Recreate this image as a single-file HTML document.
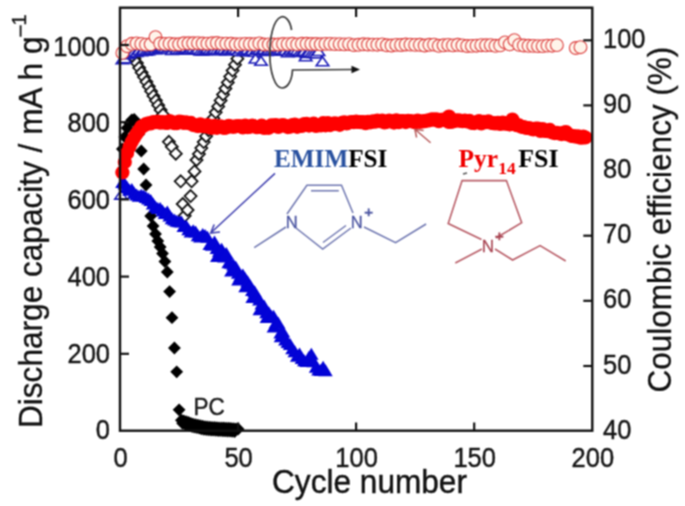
<!DOCTYPE html>
<html><head><meta charset="utf-8"><style>
html,body{margin:0;padding:0;background:#fff;}
svg{display:block;}
</style></head><body>
<svg width="685" height="506" viewBox="0 0 685 506">
<defs><filter id="soft" x="0" y="0" width="685" height="506" filterUnits="userSpaceOnUse" color-interpolation-filters="sRGB"><feConvolveMatrix order="3" kernelMatrix="1 2 1 2 4 2 1 2 1" divisor="16" edgeMode="duplicate"/></filter></defs>
<g filter="url(#soft)">
<rect width="685" height="506" fill="#fff"/>
<path d="M134.5 52.4L140.5 58.4L134.5 64.4L128.5 58.4Z" fill="#fff" stroke="#111" stroke-width="1.8"/>
<path d="M136.9 57.1L142.9 63.1L136.9 69.1L130.9 63.1Z" fill="#fff" stroke="#111" stroke-width="1.8"/>
<path d="M139.2 61.8L145.2 67.8L139.2 73.8L133.2 67.8Z" fill="#fff" stroke="#111" stroke-width="1.8"/>
<path d="M141.6 66.5L147.6 72.5L141.6 78.5L135.6 72.5Z" fill="#fff" stroke="#111" stroke-width="1.8"/>
<path d="M144.0 71.1L150.0 77.1L144.0 83.1L138.0 77.1Z" fill="#fff" stroke="#111" stroke-width="1.8"/>
<path d="M146.4 75.8L152.4 81.8L146.4 87.8L140.4 81.8Z" fill="#fff" stroke="#111" stroke-width="1.8"/>
<path d="M148.8 80.5L154.8 86.5L148.8 92.5L142.8 86.5Z" fill="#fff" stroke="#111" stroke-width="1.8"/>
<path d="M151.1 85.2L157.1 91.2L151.1 97.2L145.1 91.2Z" fill="#fff" stroke="#111" stroke-width="1.8"/>
<path d="M153.5 89.9L159.5 95.9L153.5 101.9L147.5 95.9Z" fill="#fff" stroke="#111" stroke-width="1.8"/>
<path d="M155.9 94.5L161.9 100.5L155.9 106.5L149.9 100.5Z" fill="#fff" stroke="#111" stroke-width="1.8"/>
<path d="M158.2 99.2L164.2 105.2L158.2 111.2L152.2 105.2Z" fill="#fff" stroke="#111" stroke-width="1.8"/>
<path d="M160.6 103.9L166.6 109.9L160.6 115.9L154.6 109.9Z" fill="#fff" stroke="#111" stroke-width="1.8"/>
<path d="M163.0 108.6L169.0 114.6L163.0 120.6L157.0 114.6Z" fill="#fff" stroke="#111" stroke-width="1.8"/>
<path d="M168.9 135.8L174.9 141.8L168.9 147.8L162.9 141.8Z" fill="#fff" stroke="#111" stroke-width="1.8"/>
<path d="M171.8 140.8L177.8 146.8L171.8 152.8L165.8 146.8Z" fill="#fff" stroke="#111" stroke-width="1.8"/>
<path d="M175.8 147.7L181.8 153.7L175.8 159.7L169.8 153.7Z" fill="#fff" stroke="#111" stroke-width="1.8"/>
<path d="M180.7 175.3L186.7 181.3L180.7 187.3L174.7 181.3Z" fill="#fff" stroke="#111" stroke-width="1.8"/>
<path d="M182.7 198.0L188.7 204.0L182.7 210.0L176.7 204.0Z" fill="#fff" stroke="#111" stroke-width="1.8"/>
<path d="M184.7 209.8L190.7 215.8L184.7 221.8L178.7 215.8Z" fill="#fff" stroke="#111" stroke-width="1.8"/>
<path d="M187.6 204.0L193.6 210.0L187.6 216.0L181.6 210.0Z" fill="#fff" stroke="#111" stroke-width="1.8"/>
<path d="M190.6 190.1L196.6 196.1L190.6 202.1L184.6 196.1Z" fill="#fff" stroke="#111" stroke-width="1.8"/>
<path d="M191.6 175.3L197.6 181.3L191.6 187.3L185.6 181.3Z" fill="#fff" stroke="#111" stroke-width="1.8"/>
<path d="M194.5 165.4L200.5 171.4L194.5 177.4L188.5 171.4Z" fill="#fff" stroke="#111" stroke-width="1.8"/>
<path d="M196.5 154.0L202.5 160.0L196.5 166.0L190.5 160.0Z" fill="#fff" stroke="#111" stroke-width="1.8"/>
<path d="M198.9 148.0L204.9 154.0L198.9 160.0L192.9 154.0Z" fill="#fff" stroke="#111" stroke-width="1.8"/>
<path d="M201.3 142.1L207.3 148.1L201.3 154.1L195.3 148.1Z" fill="#fff" stroke="#111" stroke-width="1.8"/>
<path d="M203.7 136.1L209.7 142.1L203.7 148.1L197.7 142.1Z" fill="#fff" stroke="#111" stroke-width="1.8"/>
<path d="M206.1 130.2L212.1 136.2L206.1 142.2L200.1 136.2Z" fill="#fff" stroke="#111" stroke-width="1.8"/>
<path d="M208.5 124.2L214.5 130.2L208.5 136.2L202.5 130.2Z" fill="#fff" stroke="#111" stroke-width="1.8"/>
<path d="M210.9 118.2L216.9 124.2L210.9 130.2L204.9 124.2Z" fill="#fff" stroke="#111" stroke-width="1.8"/>
<path d="M213.3 112.3L219.3 118.3L213.3 124.3L207.3 118.3Z" fill="#fff" stroke="#111" stroke-width="1.8"/>
<path d="M215.7 106.3L221.7 112.3L215.7 118.3L209.7 112.3Z" fill="#fff" stroke="#111" stroke-width="1.8"/>
<path d="M218.2 100.4L224.2 106.4L218.2 112.4L212.2 106.4Z" fill="#fff" stroke="#111" stroke-width="1.8"/>
<path d="M220.6 94.4L226.6 100.4L220.6 106.4L214.6 100.4Z" fill="#fff" stroke="#111" stroke-width="1.8"/>
<path d="M223.0 88.5L229.0 94.5L223.0 100.5L217.0 94.5Z" fill="#fff" stroke="#111" stroke-width="1.8"/>
<path d="M225.4 82.5L231.4 88.5L225.4 94.5L219.4 88.5Z" fill="#fff" stroke="#111" stroke-width="1.8"/>
<path d="M227.8 76.5L233.8 82.5L227.8 88.5L221.8 82.5Z" fill="#fff" stroke="#111" stroke-width="1.8"/>
<path d="M230.2 70.6L236.2 76.6L230.2 82.6L224.2 76.6Z" fill="#fff" stroke="#111" stroke-width="1.8"/>
<path d="M232.6 64.6L238.6 70.6L232.6 76.6L226.6 70.6Z" fill="#fff" stroke="#111" stroke-width="1.8"/>
<path d="M235.0 58.7L241.0 64.7L235.0 70.7L229.0 64.7Z" fill="#fff" stroke="#111" stroke-width="1.8"/>
<path d="M237.4 52.7L243.4 58.7L237.4 64.7L231.4 58.7Z" fill="#fff" stroke="#111" stroke-width="1.8"/>
<path d="M121.0 190.1L127.2 199.1L114.8 199.1Z" fill="#fff" stroke="#1c1cb8" stroke-width="1.6" stroke-linejoin="miter"/>
<path d="M122.4 54.6L128.7 63.6L116.2 63.6Z" fill="#fff" stroke="#1c1cb8" stroke-width="1.6" stroke-linejoin="miter"/>
<path d="M124.8 53.8L131.0 62.8L118.5 62.8Z" fill="#fff" stroke="#1c1cb8" stroke-width="1.6" stroke-linejoin="miter"/>
<path d="M127.1 49.6L133.4 58.6L120.9 58.6Z" fill="#fff" stroke="#1c1cb8" stroke-width="1.6" stroke-linejoin="miter"/>
<path d="M129.5 48.9L135.7 57.9L123.2 57.9Z" fill="#fff" stroke="#1c1cb8" stroke-width="1.6" stroke-linejoin="miter"/>
<path d="M131.8 46.9L138.1 55.9L125.6 55.9Z" fill="#fff" stroke="#1c1cb8" stroke-width="1.6" stroke-linejoin="miter"/>
<path d="M134.2 46.9L140.5 55.9L128.0 55.9Z" fill="#fff" stroke="#1c1cb8" stroke-width="1.6" stroke-linejoin="miter"/>
<path d="M136.6 47.5L142.8 56.5L130.3 56.5Z" fill="#fff" stroke="#1c1cb8" stroke-width="1.6" stroke-linejoin="miter"/>
<path d="M138.9 45.5L145.2 54.5L132.7 54.5Z" fill="#fff" stroke="#1c1cb8" stroke-width="1.6" stroke-linejoin="miter"/>
<path d="M141.3 46.8L147.5 55.8L135.0 55.8Z" fill="#fff" stroke="#1c1cb8" stroke-width="1.6" stroke-linejoin="miter"/>
<path d="M143.7 45.2L149.9 54.2L137.4 54.2Z" fill="#fff" stroke="#1c1cb8" stroke-width="1.6" stroke-linejoin="miter"/>
<path d="M146.0 46.1L152.3 55.1L139.8 55.1Z" fill="#fff" stroke="#1c1cb8" stroke-width="1.6" stroke-linejoin="miter"/>
<path d="M148.4 45.7L154.6 54.7L142.1 54.7Z" fill="#fff" stroke="#1c1cb8" stroke-width="1.6" stroke-linejoin="miter"/>
<path d="M150.7 44.4L157.0 53.4L144.5 53.4Z" fill="#fff" stroke="#1c1cb8" stroke-width="1.6" stroke-linejoin="miter"/>
<path d="M153.1 42.8L159.3 51.8L146.8 51.8Z" fill="#fff" stroke="#1c1cb8" stroke-width="1.6" stroke-linejoin="miter"/>
<path d="M155.5 44.8L161.7 53.8L149.2 53.8Z" fill="#fff" stroke="#1c1cb8" stroke-width="1.6" stroke-linejoin="miter"/>
<path d="M157.8 44.5L164.1 53.5L151.6 53.5Z" fill="#fff" stroke="#1c1cb8" stroke-width="1.6" stroke-linejoin="miter"/>
<path d="M160.2 43.2L166.4 52.2L153.9 52.2Z" fill="#fff" stroke="#1c1cb8" stroke-width="1.6" stroke-linejoin="miter"/>
<path d="M162.5 42.2L168.8 51.2L156.3 51.2Z" fill="#fff" stroke="#1c1cb8" stroke-width="1.6" stroke-linejoin="miter"/>
<path d="M164.9 43.5L171.2 52.5L158.7 52.5Z" fill="#fff" stroke="#1c1cb8" stroke-width="1.6" stroke-linejoin="miter"/>
<path d="M167.3 44.1L173.5 53.1L161.0 53.1Z" fill="#fff" stroke="#1c1cb8" stroke-width="1.6" stroke-linejoin="miter"/>
<path d="M169.6 42.3L175.9 51.3L163.4 51.3Z" fill="#fff" stroke="#1c1cb8" stroke-width="1.6" stroke-linejoin="miter"/>
<path d="M172.0 45.4L178.2 54.4L165.7 54.4Z" fill="#fff" stroke="#1c1cb8" stroke-width="1.6" stroke-linejoin="miter"/>
<path d="M174.4 42.8L180.6 51.8L168.1 51.8Z" fill="#fff" stroke="#1c1cb8" stroke-width="1.6" stroke-linejoin="miter"/>
<path d="M176.7 44.7L183.0 53.7L170.5 53.7Z" fill="#fff" stroke="#1c1cb8" stroke-width="1.6" stroke-linejoin="miter"/>
<path d="M179.1 45.2L185.3 54.2L172.8 54.2Z" fill="#fff" stroke="#1c1cb8" stroke-width="1.6" stroke-linejoin="miter"/>
<path d="M181.4 45.3L187.7 54.3L175.2 54.3Z" fill="#fff" stroke="#1c1cb8" stroke-width="1.6" stroke-linejoin="miter"/>
<path d="M183.8 44.7L190.0 53.7L177.5 53.7Z" fill="#fff" stroke="#1c1cb8" stroke-width="1.6" stroke-linejoin="miter"/>
<path d="M186.2 43.1L192.4 52.1L179.9 52.1Z" fill="#fff" stroke="#1c1cb8" stroke-width="1.6" stroke-linejoin="miter"/>
<path d="M188.5 45.2L194.8 54.2L182.3 54.2Z" fill="#fff" stroke="#1c1cb8" stroke-width="1.6" stroke-linejoin="miter"/>
<path d="M190.9 44.0L197.1 53.0L184.6 53.0Z" fill="#fff" stroke="#1c1cb8" stroke-width="1.6" stroke-linejoin="miter"/>
<path d="M193.2 43.8L199.5 52.8L187.0 52.8Z" fill="#fff" stroke="#1c1cb8" stroke-width="1.6" stroke-linejoin="miter"/>
<path d="M195.6 44.8L201.9 53.8L189.4 53.8Z" fill="#fff" stroke="#1c1cb8" stroke-width="1.6" stroke-linejoin="miter"/>
<path d="M198.0 44.3L204.2 53.3L191.7 53.3Z" fill="#fff" stroke="#1c1cb8" stroke-width="1.6" stroke-linejoin="miter"/>
<path d="M200.3 45.9L206.6 54.9L194.1 54.9Z" fill="#fff" stroke="#1c1cb8" stroke-width="1.6" stroke-linejoin="miter"/>
<path d="M202.7 46.0L208.9 55.0L196.4 55.0Z" fill="#fff" stroke="#1c1cb8" stroke-width="1.6" stroke-linejoin="miter"/>
<path d="M205.1 45.6L211.3 54.6L198.8 54.6Z" fill="#fff" stroke="#1c1cb8" stroke-width="1.6" stroke-linejoin="miter"/>
<path d="M207.4 44.1L213.7 53.1L201.2 53.1Z" fill="#fff" stroke="#1c1cb8" stroke-width="1.6" stroke-linejoin="miter"/>
<path d="M209.8 45.0L216.0 54.0L203.5 54.0Z" fill="#fff" stroke="#1c1cb8" stroke-width="1.6" stroke-linejoin="miter"/>
<path d="M212.1 45.4L218.4 54.4L205.9 54.4Z" fill="#fff" stroke="#1c1cb8" stroke-width="1.6" stroke-linejoin="miter"/>
<path d="M214.5 44.6L220.7 53.6L208.2 53.6Z" fill="#fff" stroke="#1c1cb8" stroke-width="1.6" stroke-linejoin="miter"/>
<path d="M216.9 45.1L223.1 54.1L210.6 54.1Z" fill="#fff" stroke="#1c1cb8" stroke-width="1.6" stroke-linejoin="miter"/>
<path d="M219.2 45.7L225.5 54.7L213.0 54.7Z" fill="#fff" stroke="#1c1cb8" stroke-width="1.6" stroke-linejoin="miter"/>
<path d="M221.6 44.1L227.8 53.1L215.3 53.1Z" fill="#fff" stroke="#1c1cb8" stroke-width="1.6" stroke-linejoin="miter"/>
<path d="M223.9 44.5L230.2 53.5L217.7 53.5Z" fill="#fff" stroke="#1c1cb8" stroke-width="1.6" stroke-linejoin="miter"/>
<path d="M226.3 46.0L232.6 55.0L220.1 55.0Z" fill="#fff" stroke="#1c1cb8" stroke-width="1.6" stroke-linejoin="miter"/>
<path d="M228.7 45.0L234.9 54.0L222.4 54.0Z" fill="#fff" stroke="#1c1cb8" stroke-width="1.6" stroke-linejoin="miter"/>
<path d="M231.0 45.3L237.3 54.3L224.8 54.3Z" fill="#fff" stroke="#1c1cb8" stroke-width="1.6" stroke-linejoin="miter"/>
<path d="M233.4 44.2L239.6 53.2L227.1 53.2Z" fill="#fff" stroke="#1c1cb8" stroke-width="1.6" stroke-linejoin="miter"/>
<path d="M235.8 44.7L242.0 53.7L229.5 53.7Z" fill="#fff" stroke="#1c1cb8" stroke-width="1.6" stroke-linejoin="miter"/>
<path d="M238.1 46.2L244.4 55.2L231.9 55.2Z" fill="#fff" stroke="#1c1cb8" stroke-width="1.6" stroke-linejoin="miter"/>
<path d="M240.5 44.0L246.7 53.0L234.2 53.0Z" fill="#fff" stroke="#1c1cb8" stroke-width="1.6" stroke-linejoin="miter"/>
<path d="M242.8 46.8L249.1 55.8L236.6 55.8Z" fill="#fff" stroke="#1c1cb8" stroke-width="1.6" stroke-linejoin="miter"/>
<path d="M245.2 45.9L251.4 54.9L238.9 54.9Z" fill="#fff" stroke="#1c1cb8" stroke-width="1.6" stroke-linejoin="miter"/>
<path d="M247.6 44.8L253.8 53.8L241.3 53.8Z" fill="#fff" stroke="#1c1cb8" stroke-width="1.6" stroke-linejoin="miter"/>
<path d="M249.9 46.8L256.2 55.8L243.7 55.8Z" fill="#fff" stroke="#1c1cb8" stroke-width="1.6" stroke-linejoin="miter"/>
<path d="M252.3 45.8L258.5 54.8L246.0 54.8Z" fill="#fff" stroke="#1c1cb8" stroke-width="1.6" stroke-linejoin="miter"/>
<path d="M254.6 47.3L260.9 56.3L248.4 56.3Z" fill="#fff" stroke="#1c1cb8" stroke-width="1.6" stroke-linejoin="miter"/>
<path d="M255.5 54.0L261.8 63.0L249.2 63.0Z" fill="#fff" stroke="#1c1cb8" stroke-width="1.6" stroke-linejoin="miter"/>
<path d="M257.0 45.2L263.3 54.2L250.8 54.2Z" fill="#fff" stroke="#1c1cb8" stroke-width="1.6" stroke-linejoin="miter"/>
<path d="M259.4 45.0L265.6 54.0L253.1 54.0Z" fill="#fff" stroke="#1c1cb8" stroke-width="1.6" stroke-linejoin="miter"/>
<path d="M261.0 56.2L267.2 65.2L254.8 65.2Z" fill="#fff" stroke="#1c1cb8" stroke-width="1.6" stroke-linejoin="miter"/>
<path d="M261.7 45.6L268.0 54.6L255.5 54.6Z" fill="#fff" stroke="#1c1cb8" stroke-width="1.6" stroke-linejoin="miter"/>
<path d="M264.1 44.7L270.3 53.7L257.8 53.7Z" fill="#fff" stroke="#1c1cb8" stroke-width="1.6" stroke-linejoin="miter"/>
<path d="M266.5 46.5L272.7 55.5L260.2 55.5Z" fill="#fff" stroke="#1c1cb8" stroke-width="1.6" stroke-linejoin="miter"/>
<path d="M268.8 45.3L275.1 54.3L262.6 54.3Z" fill="#fff" stroke="#1c1cb8" stroke-width="1.6" stroke-linejoin="miter"/>
<path d="M271.2 45.7L277.4 54.7L264.9 54.7Z" fill="#fff" stroke="#1c1cb8" stroke-width="1.6" stroke-linejoin="miter"/>
<path d="M273.5 45.8L279.8 54.8L267.3 54.8Z" fill="#fff" stroke="#1c1cb8" stroke-width="1.6" stroke-linejoin="miter"/>
<path d="M275.9 46.2L282.1 55.2L269.6 55.2Z" fill="#fff" stroke="#1c1cb8" stroke-width="1.6" stroke-linejoin="miter"/>
<path d="M278.3 45.0L284.5 54.0L272.0 54.0Z" fill="#fff" stroke="#1c1cb8" stroke-width="1.6" stroke-linejoin="miter"/>
<path d="M280.6 44.7L286.9 53.7L274.4 53.7Z" fill="#fff" stroke="#1c1cb8" stroke-width="1.6" stroke-linejoin="miter"/>
<path d="M283.0 46.2L289.2 55.2L276.7 55.2Z" fill="#fff" stroke="#1c1cb8" stroke-width="1.6" stroke-linejoin="miter"/>
<path d="M285.3 45.6L291.6 54.6L279.1 54.6Z" fill="#fff" stroke="#1c1cb8" stroke-width="1.6" stroke-linejoin="miter"/>
<path d="M287.7 47.7L294.0 56.7L281.5 56.7Z" fill="#fff" stroke="#1c1cb8" stroke-width="1.6" stroke-linejoin="miter"/>
<path d="M290.1 45.7L296.3 54.7L283.8 54.7Z" fill="#fff" stroke="#1c1cb8" stroke-width="1.6" stroke-linejoin="miter"/>
<path d="M292.4 46.0L298.7 55.0L286.2 55.0Z" fill="#fff" stroke="#1c1cb8" stroke-width="1.6" stroke-linejoin="miter"/>
<path d="M294.8 44.9L301.0 53.9L288.5 53.9Z" fill="#fff" stroke="#1c1cb8" stroke-width="1.6" stroke-linejoin="miter"/>
<path d="M297.2 45.6L303.4 54.6L290.9 54.6Z" fill="#fff" stroke="#1c1cb8" stroke-width="1.6" stroke-linejoin="miter"/>
<path d="M299.5 47.4L305.8 56.4L293.3 56.4Z" fill="#fff" stroke="#1c1cb8" stroke-width="1.6" stroke-linejoin="miter"/>
<path d="M301.9 47.2L308.1 56.2L295.6 56.2Z" fill="#fff" stroke="#1c1cb8" stroke-width="1.6" stroke-linejoin="miter"/>
<path d="M304.2 46.3L310.5 55.3L298.0 55.3Z" fill="#fff" stroke="#1c1cb8" stroke-width="1.6" stroke-linejoin="miter"/>
<path d="M305.7 51.8L311.9 60.8L299.4 60.8Z" fill="#fff" stroke="#1c1cb8" stroke-width="1.6" stroke-linejoin="miter"/>
<path d="M306.6 48.5L312.8 57.5L300.3 57.5Z" fill="#fff" stroke="#1c1cb8" stroke-width="1.6" stroke-linejoin="miter"/>
<path d="M309.0 47.2L315.2 56.2L302.7 56.2Z" fill="#fff" stroke="#1c1cb8" stroke-width="1.6" stroke-linejoin="miter"/>
<path d="M311.3 48.2L317.6 57.2L305.1 57.2Z" fill="#fff" stroke="#1c1cb8" stroke-width="1.6" stroke-linejoin="miter"/>
<path d="M313.7 48.5L319.9 57.5L307.4 57.5Z" fill="#fff" stroke="#1c1cb8" stroke-width="1.6" stroke-linejoin="miter"/>
<path d="M316.0 48.7L322.3 57.7L309.8 57.7Z" fill="#fff" stroke="#1c1cb8" stroke-width="1.6" stroke-linejoin="miter"/>
<path d="M318.4 46.5L324.7 55.5L312.2 55.5Z" fill="#fff" stroke="#1c1cb8" stroke-width="1.6" stroke-linejoin="miter"/>
<path d="M322.5 56.7L328.8 65.7L316.2 65.7Z" fill="#fff" stroke="#1c1cb8" stroke-width="1.6" stroke-linejoin="miter"/>
<circle cx="122.4" cy="52.9" r="6.4" fill="#fff4ea" stroke="#dc4040" stroke-width="1.1"/>
<circle cx="127.1" cy="46.2" r="6.4" fill="#fff4ea" stroke="#dc4040" stroke-width="1.1"/>
<circle cx="131.8" cy="43.8" r="6.4" fill="#fff4ea" stroke="#dc4040" stroke-width="1.1"/>
<circle cx="136.6" cy="43.4" r="6.4" fill="#fff4ea" stroke="#dc4040" stroke-width="1.1"/>
<circle cx="141.3" cy="43.9" r="6.4" fill="#fff4ea" stroke="#dc4040" stroke-width="1.1"/>
<circle cx="146.0" cy="44.6" r="6.4" fill="#fff4ea" stroke="#dc4040" stroke-width="1.1"/>
<circle cx="150.7" cy="44.3" r="6.4" fill="#fff4ea" stroke="#dc4040" stroke-width="1.1"/>
<circle cx="155.5" cy="37.1" r="6.4" fill="#fff4ea" stroke="#dc4040" stroke-width="1.1"/>
<circle cx="160.2" cy="43.5" r="6.4" fill="#fff4ea" stroke="#dc4040" stroke-width="1.1"/>
<circle cx="164.9" cy="43.9" r="6.4" fill="#fff4ea" stroke="#dc4040" stroke-width="1.1"/>
<circle cx="169.6" cy="43.7" r="6.4" fill="#fff4ea" stroke="#dc4040" stroke-width="1.1"/>
<circle cx="174.4" cy="44.3" r="6.4" fill="#fff4ea" stroke="#dc4040" stroke-width="1.1"/>
<circle cx="179.1" cy="44.3" r="6.4" fill="#fff4ea" stroke="#dc4040" stroke-width="1.1"/>
<circle cx="183.8" cy="43.3" r="6.4" fill="#fff4ea" stroke="#dc4040" stroke-width="1.1"/>
<circle cx="188.5" cy="43.3" r="6.4" fill="#fff4ea" stroke="#dc4040" stroke-width="1.1"/>
<circle cx="193.2" cy="43.3" r="6.4" fill="#fff4ea" stroke="#dc4040" stroke-width="1.1"/>
<circle cx="198.0" cy="43.2" r="6.4" fill="#fff4ea" stroke="#dc4040" stroke-width="1.1"/>
<circle cx="202.7" cy="43.5" r="6.4" fill="#fff4ea" stroke="#dc4040" stroke-width="1.1"/>
<circle cx="207.4" cy="43.7" r="6.4" fill="#fff4ea" stroke="#dc4040" stroke-width="1.1"/>
<circle cx="212.1" cy="43.3" r="6.4" fill="#fff4ea" stroke="#dc4040" stroke-width="1.1"/>
<circle cx="216.9" cy="43.0" r="6.4" fill="#fff4ea" stroke="#dc4040" stroke-width="1.1"/>
<circle cx="221.6" cy="43.6" r="6.4" fill="#fff4ea" stroke="#dc4040" stroke-width="1.1"/>
<circle cx="226.3" cy="43.6" r="6.4" fill="#fff4ea" stroke="#dc4040" stroke-width="1.1"/>
<circle cx="231.0" cy="43.8" r="6.4" fill="#fff4ea" stroke="#dc4040" stroke-width="1.1"/>
<circle cx="235.8" cy="44.3" r="6.4" fill="#fff4ea" stroke="#dc4040" stroke-width="1.1"/>
<circle cx="240.5" cy="44.1" r="6.4" fill="#fff4ea" stroke="#dc4040" stroke-width="1.1"/>
<circle cx="245.2" cy="43.9" r="6.4" fill="#fff4ea" stroke="#dc4040" stroke-width="1.1"/>
<circle cx="249.9" cy="44.0" r="6.4" fill="#fff4ea" stroke="#dc4040" stroke-width="1.1"/>
<circle cx="254.6" cy="44.1" r="6.4" fill="#fff4ea" stroke="#dc4040" stroke-width="1.1"/>
<circle cx="259.4" cy="43.4" r="6.4" fill="#fff4ea" stroke="#dc4040" stroke-width="1.1"/>
<circle cx="264.1" cy="44.5" r="6.4" fill="#fff4ea" stroke="#dc4040" stroke-width="1.1"/>
<circle cx="268.8" cy="44.4" r="6.4" fill="#fff4ea" stroke="#dc4040" stroke-width="1.1"/>
<circle cx="273.5" cy="44.5" r="6.4" fill="#fff4ea" stroke="#dc4040" stroke-width="1.1"/>
<circle cx="278.3" cy="44.5" r="6.4" fill="#fff4ea" stroke="#dc4040" stroke-width="1.1"/>
<circle cx="283.0" cy="44.0" r="6.4" fill="#fff4ea" stroke="#dc4040" stroke-width="1.1"/>
<circle cx="287.7" cy="44.1" r="6.4" fill="#fff4ea" stroke="#dc4040" stroke-width="1.1"/>
<circle cx="292.4" cy="43.8" r="6.4" fill="#fff4ea" stroke="#dc4040" stroke-width="1.1"/>
<circle cx="297.2" cy="44.4" r="6.4" fill="#fff4ea" stroke="#dc4040" stroke-width="1.1"/>
<circle cx="301.9" cy="43.8" r="6.4" fill="#fff4ea" stroke="#dc4040" stroke-width="1.1"/>
<circle cx="306.6" cy="43.8" r="6.4" fill="#fff4ea" stroke="#dc4040" stroke-width="1.1"/>
<circle cx="311.3" cy="44.0" r="6.4" fill="#fff4ea" stroke="#dc4040" stroke-width="1.1"/>
<circle cx="316.0" cy="44.0" r="6.4" fill="#fff4ea" stroke="#dc4040" stroke-width="1.1"/>
<circle cx="320.8" cy="44.3" r="6.4" fill="#fff4ea" stroke="#dc4040" stroke-width="1.1"/>
<circle cx="325.5" cy="43.9" r="6.4" fill="#fff4ea" stroke="#dc4040" stroke-width="1.1"/>
<circle cx="330.2" cy="43.9" r="6.4" fill="#fff4ea" stroke="#dc4040" stroke-width="1.1"/>
<circle cx="334.9" cy="44.1" r="6.4" fill="#fff4ea" stroke="#dc4040" stroke-width="1.1"/>
<circle cx="339.7" cy="44.1" r="6.4" fill="#fff4ea" stroke="#dc4040" stroke-width="1.1"/>
<circle cx="344.4" cy="44.4" r="6.4" fill="#fff4ea" stroke="#dc4040" stroke-width="1.1"/>
<circle cx="349.1" cy="44.1" r="6.4" fill="#fff4ea" stroke="#dc4040" stroke-width="1.1"/>
<circle cx="353.8" cy="45.1" r="6.4" fill="#fff4ea" stroke="#dc4040" stroke-width="1.1"/>
<circle cx="358.5" cy="44.8" r="6.4" fill="#fff4ea" stroke="#dc4040" stroke-width="1.1"/>
<circle cx="363.3" cy="44.3" r="6.4" fill="#fff4ea" stroke="#dc4040" stroke-width="1.1"/>
<circle cx="368.0" cy="44.5" r="6.4" fill="#fff4ea" stroke="#dc4040" stroke-width="1.1"/>
<circle cx="372.7" cy="44.6" r="6.4" fill="#fff4ea" stroke="#dc4040" stroke-width="1.1"/>
<circle cx="377.4" cy="44.7" r="6.4" fill="#fff4ea" stroke="#dc4040" stroke-width="1.1"/>
<circle cx="382.2" cy="44.4" r="6.4" fill="#fff4ea" stroke="#dc4040" stroke-width="1.1"/>
<circle cx="386.9" cy="45.3" r="6.4" fill="#fff4ea" stroke="#dc4040" stroke-width="1.1"/>
<circle cx="391.6" cy="45.5" r="6.4" fill="#fff4ea" stroke="#dc4040" stroke-width="1.1"/>
<circle cx="396.3" cy="44.9" r="6.4" fill="#fff4ea" stroke="#dc4040" stroke-width="1.1"/>
<circle cx="401.1" cy="45.0" r="6.4" fill="#fff4ea" stroke="#dc4040" stroke-width="1.1"/>
<circle cx="405.8" cy="44.5" r="6.4" fill="#fff4ea" stroke="#dc4040" stroke-width="1.1"/>
<circle cx="410.5" cy="44.6" r="6.4" fill="#fff4ea" stroke="#dc4040" stroke-width="1.1"/>
<circle cx="415.2" cy="44.9" r="6.4" fill="#fff4ea" stroke="#dc4040" stroke-width="1.1"/>
<circle cx="419.9" cy="44.8" r="6.4" fill="#fff4ea" stroke="#dc4040" stroke-width="1.1"/>
<circle cx="424.7" cy="45.5" r="6.4" fill="#fff4ea" stroke="#dc4040" stroke-width="1.1"/>
<circle cx="429.4" cy="44.8" r="6.4" fill="#fff4ea" stroke="#dc4040" stroke-width="1.1"/>
<circle cx="434.1" cy="44.6" r="6.4" fill="#fff4ea" stroke="#dc4040" stroke-width="1.1"/>
<circle cx="438.8" cy="45.8" r="6.4" fill="#fff4ea" stroke="#dc4040" stroke-width="1.1"/>
<circle cx="443.6" cy="45.3" r="6.4" fill="#fff4ea" stroke="#dc4040" stroke-width="1.1"/>
<circle cx="448.3" cy="44.9" r="6.4" fill="#fff4ea" stroke="#dc4040" stroke-width="1.1"/>
<circle cx="453.0" cy="45.4" r="6.4" fill="#fff4ea" stroke="#dc4040" stroke-width="1.1"/>
<circle cx="457.7" cy="44.8" r="6.4" fill="#fff4ea" stroke="#dc4040" stroke-width="1.1"/>
<circle cx="462.5" cy="45.4" r="6.4" fill="#fff4ea" stroke="#dc4040" stroke-width="1.1"/>
<circle cx="467.2" cy="46.0" r="6.4" fill="#fff4ea" stroke="#dc4040" stroke-width="1.1"/>
<circle cx="471.9" cy="45.9" r="6.4" fill="#fff4ea" stroke="#dc4040" stroke-width="1.1"/>
<circle cx="476.6" cy="45.7" r="6.4" fill="#fff4ea" stroke="#dc4040" stroke-width="1.1"/>
<circle cx="481.3" cy="45.2" r="6.4" fill="#fff4ea" stroke="#dc4040" stroke-width="1.1"/>
<circle cx="486.1" cy="45.3" r="6.4" fill="#fff4ea" stroke="#dc4040" stroke-width="1.1"/>
<circle cx="490.8" cy="45.1" r="6.4" fill="#fff4ea" stroke="#dc4040" stroke-width="1.1"/>
<circle cx="495.5" cy="45.8" r="6.4" fill="#fff4ea" stroke="#dc4040" stroke-width="1.1"/>
<circle cx="500.2" cy="45.4" r="6.4" fill="#fff4ea" stroke="#dc4040" stroke-width="1.1"/>
<circle cx="505.0" cy="42.4" r="6.4" fill="#fff4ea" stroke="#dc4040" stroke-width="1.1"/>
<circle cx="509.7" cy="44.3" r="6.4" fill="#fff4ea" stroke="#dc4040" stroke-width="1.1"/>
<circle cx="514.4" cy="40.2" r="6.4" fill="#fff4ea" stroke="#dc4040" stroke-width="1.1"/>
<circle cx="519.1" cy="44.9" r="6.4" fill="#fff4ea" stroke="#dc4040" stroke-width="1.1"/>
<circle cx="523.9" cy="45.5" r="6.4" fill="#fff4ea" stroke="#dc4040" stroke-width="1.1"/>
<circle cx="528.6" cy="45.8" r="6.4" fill="#fff4ea" stroke="#dc4040" stroke-width="1.1"/>
<circle cx="533.3" cy="45.9" r="6.4" fill="#fff4ea" stroke="#dc4040" stroke-width="1.1"/>
<circle cx="538.0" cy="46.1" r="6.4" fill="#fff4ea" stroke="#dc4040" stroke-width="1.1"/>
<circle cx="542.7" cy="46.1" r="6.4" fill="#fff4ea" stroke="#dc4040" stroke-width="1.1"/>
<circle cx="547.5" cy="45.6" r="6.4" fill="#fff4ea" stroke="#dc4040" stroke-width="1.1"/>
<circle cx="552.2" cy="45.7" r="6.4" fill="#fff4ea" stroke="#dc4040" stroke-width="1.1"/>
<circle cx="556.9" cy="45.1" r="6.4" fill="#fff4ea" stroke="#dc4040" stroke-width="1.1"/>
<circle cx="575.8" cy="48.0" r="6.4" fill="#fff4ea" stroke="#dc4040" stroke-width="1.1"/>
<circle cx="580.5" cy="47.2" r="6.4" fill="#fff4ea" stroke="#dc4040" stroke-width="1.1"/>
<path d="M122.4 142.6L128.8 149.0L122.4 155.4L116.0 149.0Z" fill="#000" stroke="none" stroke-width="0"/>
<path d="M124.8 130.6L131.2 137.0L124.8 143.4L118.4 137.0Z" fill="#000" stroke="none" stroke-width="0"/>
<path d="M127.1 121.6L133.5 128.0L127.1 134.4L120.7 128.0Z" fill="#000" stroke="none" stroke-width="0"/>
<path d="M129.5 116.6L135.9 123.0L129.5 129.4L123.1 123.0Z" fill="#000" stroke="none" stroke-width="0"/>
<path d="M131.8 113.6L138.2 120.0L131.8 126.4L125.4 120.0Z" fill="#000" stroke="none" stroke-width="0"/>
<path d="M134.2 113.1L140.6 119.5L134.2 125.9L127.8 119.5Z" fill="#000" stroke="none" stroke-width="0"/>
<path d="M136.6 117.6L143.0 124.0L136.6 130.4L130.2 124.0Z" fill="#000" stroke="none" stroke-width="0"/>
<path d="M138.9 127.6L145.3 134.0L138.9 140.4L132.5 134.0Z" fill="#000" stroke="none" stroke-width="0"/>
<path d="M141.3 144.6L147.7 151.0L141.3 157.4L134.9 151.0Z" fill="#000" stroke="none" stroke-width="0"/>
<path d="M143.7 162.6L150.1 169.0L143.7 175.4L137.3 169.0Z" fill="#000" stroke="none" stroke-width="0"/>
<path d="M146.0 178.6L152.4 185.0L146.0 191.4L139.6 185.0Z" fill="#000" stroke="none" stroke-width="0"/>
<path d="M148.4 194.6L154.8 201.0L148.4 207.4L142.0 201.0Z" fill="#000" stroke="none" stroke-width="0"/>
<path d="M150.7 209.6L157.1 216.0L150.7 222.4L144.3 216.0Z" fill="#000" stroke="none" stroke-width="0"/>
<path d="M153.1 219.6L159.5 226.0L153.1 232.4L146.7 226.0Z" fill="#000" stroke="none" stroke-width="0"/>
<path d="M155.5 227.6L161.9 234.0L155.5 240.4L149.1 234.0Z" fill="#000" stroke="none" stroke-width="0"/>
<path d="M157.8 234.6L164.2 241.0L157.8 247.4L151.4 241.0Z" fill="#000" stroke="none" stroke-width="0"/>
<path d="M160.2 240.6L166.6 247.0L160.2 253.4L153.8 247.0Z" fill="#000" stroke="none" stroke-width="0"/>
<path d="M162.5 247.1L168.9 253.5L162.5 259.9L156.1 253.5Z" fill="#000" stroke="none" stroke-width="0"/>
<path d="M164.9 255.1L171.3 261.5L164.9 267.9L158.5 261.5Z" fill="#000" stroke="none" stroke-width="0"/>
<path d="M167.3 265.6L173.7 272.0L167.3 278.4L160.9 272.0Z" fill="#000" stroke="none" stroke-width="0"/>
<path d="M169.6 285.2L176.0 291.6L169.6 298.0L163.2 291.6Z" fill="#000" stroke="none" stroke-width="0"/>
<path d="M172.0 311.3L178.4 317.7L172.0 324.1L165.6 317.7Z" fill="#000" stroke="none" stroke-width="0"/>
<path d="M174.4 341.6L180.8 348.0L174.4 354.4L168.0 348.0Z" fill="#000" stroke="none" stroke-width="0"/>
<path d="M176.7 365.4L183.1 371.8L176.7 378.2L170.3 371.8Z" fill="#000" stroke="none" stroke-width="0"/>
<path d="M179.1 403.4L185.5 409.8L179.1 416.2L172.7 409.8Z" fill="#000" stroke="none" stroke-width="0"/>
<path d="M181.4 413.8L187.8 420.2L181.4 426.6L175.0 420.2Z" fill="#000" stroke="none" stroke-width="0"/>
<path d="M182.6 416.9L189.0 423.3L182.6 429.7L176.2 423.3Z" fill="#000" stroke="none" stroke-width="0"/>
<path d="M183.8 414.5L190.2 420.9L183.8 427.3L177.4 420.9Z" fill="#000" stroke="none" stroke-width="0"/>
<path d="M185.0 417.7L191.4 424.1L185.0 430.5L178.6 424.1Z" fill="#000" stroke="none" stroke-width="0"/>
<path d="M186.2 415.3L192.6 421.7L186.2 428.1L179.8 421.7Z" fill="#000" stroke="none" stroke-width="0"/>
<path d="M187.4 418.5L193.8 424.9L187.4 431.3L181.0 424.9Z" fill="#000" stroke="none" stroke-width="0"/>
<path d="M188.5 416.1L194.9 422.5L188.5 428.9L182.1 422.5Z" fill="#000" stroke="none" stroke-width="0"/>
<path d="M189.7 419.3L196.1 425.7L189.7 432.1L183.3 425.7Z" fill="#000" stroke="none" stroke-width="0"/>
<path d="M190.9 416.9L197.3 423.3L190.9 429.7L184.5 423.3Z" fill="#000" stroke="none" stroke-width="0"/>
<path d="M192.1 420.1L198.5 426.5L192.1 432.9L185.7 426.5Z" fill="#000" stroke="none" stroke-width="0"/>
<path d="M193.2 417.7L199.6 424.1L193.2 430.5L186.8 424.1Z" fill="#000" stroke="none" stroke-width="0"/>
<path d="M194.4 420.8L200.8 427.2L194.4 433.6L188.0 427.2Z" fill="#000" stroke="none" stroke-width="0"/>
<path d="M195.6 418.3L202.0 424.7L195.6 431.1L189.2 424.7Z" fill="#000" stroke="none" stroke-width="0"/>
<path d="M196.8 421.3L203.2 427.7L196.8 434.1L190.4 427.7Z" fill="#000" stroke="none" stroke-width="0"/>
<path d="M198.0 418.8L204.4 425.2L198.0 431.6L191.6 425.2Z" fill="#000" stroke="none" stroke-width="0"/>
<path d="M199.2 421.8L205.6 428.2L199.2 434.6L192.8 428.2Z" fill="#000" stroke="none" stroke-width="0"/>
<path d="M200.3 419.3L206.7 425.7L200.3 432.1L193.9 425.7Z" fill="#000" stroke="none" stroke-width="0"/>
<path d="M201.5 422.4L207.9 428.8L201.5 435.2L195.1 428.8Z" fill="#000" stroke="none" stroke-width="0"/>
<path d="M202.7 419.8L209.1 426.2L202.7 432.6L196.3 426.2Z" fill="#000" stroke="none" stroke-width="0"/>
<path d="M203.9 422.9L210.3 429.3L203.9 435.7L197.5 429.3Z" fill="#000" stroke="none" stroke-width="0"/>
<path d="M205.1 420.3L211.5 426.7L205.1 433.1L198.7 426.7Z" fill="#000" stroke="none" stroke-width="0"/>
<path d="M206.3 423.2L212.7 429.6L206.3 436.0L199.9 429.6Z" fill="#000" stroke="none" stroke-width="0"/>
<path d="M207.4 420.5L213.8 426.9L207.4 433.3L201.0 426.9Z" fill="#000" stroke="none" stroke-width="0"/>
<path d="M208.6 423.4L215.0 429.8L208.6 436.2L202.2 429.8Z" fill="#000" stroke="none" stroke-width="0"/>
<path d="M209.8 420.7L216.2 427.1L209.8 433.5L203.4 427.1Z" fill="#000" stroke="none" stroke-width="0"/>
<path d="M211.0 423.6L217.4 430.0L211.0 436.4L204.6 430.0Z" fill="#000" stroke="none" stroke-width="0"/>
<path d="M212.1 420.9L218.5 427.3L212.1 433.7L205.7 427.3Z" fill="#000" stroke="none" stroke-width="0"/>
<path d="M213.3 423.8L219.7 430.2L213.3 436.6L206.9 430.2Z" fill="#000" stroke="none" stroke-width="0"/>
<path d="M214.5 421.1L220.9 427.5L214.5 433.9L208.1 427.5Z" fill="#000" stroke="none" stroke-width="0"/>
<path d="M215.7 424.0L222.1 430.4L215.7 436.8L209.3 430.4Z" fill="#000" stroke="none" stroke-width="0"/>
<path d="M216.9 421.3L223.3 427.7L216.9 434.1L210.5 427.7Z" fill="#000" stroke="none" stroke-width="0"/>
<path d="M218.1 424.2L224.5 430.6L218.1 437.0L211.7 430.6Z" fill="#000" stroke="none" stroke-width="0"/>
<path d="M219.2 421.4L225.6 427.8L219.2 434.2L212.8 427.8Z" fill="#000" stroke="none" stroke-width="0"/>
<path d="M220.4 424.3L226.8 430.7L220.4 437.1L214.0 430.7Z" fill="#000" stroke="none" stroke-width="0"/>
<path d="M221.6 421.5L228.0 427.9L221.6 434.3L215.2 427.9Z" fill="#000" stroke="none" stroke-width="0"/>
<path d="M222.8 424.4L229.2 430.8L222.8 437.2L216.4 430.8Z" fill="#000" stroke="none" stroke-width="0"/>
<path d="M223.9 421.6L230.3 428.0L223.9 434.4L217.5 428.0Z" fill="#000" stroke="none" stroke-width="0"/>
<path d="M225.1 424.5L231.5 430.9L225.1 437.3L218.7 430.9Z" fill="#000" stroke="none" stroke-width="0"/>
<path d="M226.3 421.7L232.7 428.1L226.3 434.5L219.9 428.1Z" fill="#000" stroke="none" stroke-width="0"/>
<path d="M227.5 424.6L233.9 431.0L227.5 437.4L221.1 431.0Z" fill="#000" stroke="none" stroke-width="0"/>
<path d="M228.7 421.8L235.1 428.2L228.7 434.6L222.3 428.2Z" fill="#000" stroke="none" stroke-width="0"/>
<path d="M229.9 424.7L236.3 431.1L229.9 437.5L223.5 431.1Z" fill="#000" stroke="none" stroke-width="0"/>
<path d="M231.0 422.0L237.4 428.4L231.0 434.8L224.6 428.4Z" fill="#000" stroke="none" stroke-width="0"/>
<path d="M232.2 424.9L238.6 431.3L232.2 437.7L225.8 431.3Z" fill="#000" stroke="none" stroke-width="0"/>
<path d="M233.4 422.2L239.8 428.6L233.4 435.0L227.0 428.6Z" fill="#000" stroke="none" stroke-width="0"/>
<path d="M234.6 425.1L241.0 431.5L234.6 437.9L228.2 431.5Z" fill="#000" stroke="none" stroke-width="0"/>
<path d="M235.8 422.4L242.2 428.8L235.8 435.2L229.4 428.8Z" fill="#000" stroke="none" stroke-width="0"/>
<path d="M238.1 422.6L244.5 429.0L238.1 435.4L231.7 429.0Z" fill="#000" stroke="none" stroke-width="0"/>
<path d="M122.4 176.0L129.7 188.0L115.2 188.0Z" fill="#0303d6" stroke="none" stroke-width="0" stroke-linejoin="miter"/>
<path d="M124.8 177.5L132.0 189.5L117.5 189.5Z" fill="#0303d6" stroke="none" stroke-width="0" stroke-linejoin="miter"/>
<path d="M127.1 181.0L134.4 193.0L119.9 193.0Z" fill="#0303d6" stroke="none" stroke-width="0" stroke-linejoin="miter"/>
<path d="M129.5 183.7L136.7 195.7L122.2 195.7Z" fill="#0303d6" stroke="none" stroke-width="0" stroke-linejoin="miter"/>
<path d="M131.8 183.0L139.1 195.0L124.6 195.0Z" fill="#0303d6" stroke="none" stroke-width="0" stroke-linejoin="miter"/>
<path d="M134.2 186.7L141.5 198.7L127.0 198.7Z" fill="#0303d6" stroke="none" stroke-width="0" stroke-linejoin="miter"/>
<path d="M136.6 188.4L143.8 200.4L129.3 200.4Z" fill="#0303d6" stroke="none" stroke-width="0" stroke-linejoin="miter"/>
<path d="M138.9 189.8L146.2 201.8L131.7 201.8Z" fill="#0303d6" stroke="none" stroke-width="0" stroke-linejoin="miter"/>
<path d="M141.3 188.7L148.5 200.7L134.0 200.7Z" fill="#0303d6" stroke="none" stroke-width="0" stroke-linejoin="miter"/>
<path d="M143.7 189.6L150.9 201.6L136.4 201.6Z" fill="#0303d6" stroke="none" stroke-width="0" stroke-linejoin="miter"/>
<path d="M146.0 191.1L153.3 203.1L138.8 203.1Z" fill="#0303d6" stroke="none" stroke-width="0" stroke-linejoin="miter"/>
<path d="M148.4 192.4L155.6 204.4L141.1 204.4Z" fill="#0303d6" stroke="none" stroke-width="0" stroke-linejoin="miter"/>
<path d="M150.7 194.1L158.0 206.1L143.5 206.1Z" fill="#0303d6" stroke="none" stroke-width="0" stroke-linejoin="miter"/>
<path d="M153.1 197.6L160.3 209.6L145.8 209.6Z" fill="#0303d6" stroke="none" stroke-width="0" stroke-linejoin="miter"/>
<path d="M155.5 200.4L162.7 212.4L148.2 212.4Z" fill="#0303d6" stroke="none" stroke-width="0" stroke-linejoin="miter"/>
<path d="M157.8 201.9L165.1 213.9L150.6 213.9Z" fill="#0303d6" stroke="none" stroke-width="0" stroke-linejoin="miter"/>
<path d="M160.2 202.0L167.4 214.0L152.9 214.0Z" fill="#0303d6" stroke="none" stroke-width="0" stroke-linejoin="miter"/>
<path d="M162.5 204.6L169.8 216.6L155.3 216.6Z" fill="#0303d6" stroke="none" stroke-width="0" stroke-linejoin="miter"/>
<path d="M164.9 206.9L172.2 218.9L157.7 218.9Z" fill="#0303d6" stroke="none" stroke-width="0" stroke-linejoin="miter"/>
<path d="M167.3 205.4L174.5 217.4L160.0 217.4Z" fill="#0303d6" stroke="none" stroke-width="0" stroke-linejoin="miter"/>
<path d="M169.6 209.6L176.9 221.6L162.4 221.6Z" fill="#0303d6" stroke="none" stroke-width="0" stroke-linejoin="miter"/>
<path d="M172.0 212.3L179.2 224.3L164.7 224.3Z" fill="#0303d6" stroke="none" stroke-width="0" stroke-linejoin="miter"/>
<path d="M174.4 213.4L181.6 225.4L167.1 225.4Z" fill="#0303d6" stroke="none" stroke-width="0" stroke-linejoin="miter"/>
<path d="M176.7 214.8L184.0 226.8L169.5 226.8Z" fill="#0303d6" stroke="none" stroke-width="0" stroke-linejoin="miter"/>
<path d="M179.1 215.3L186.3 227.3L171.8 227.3Z" fill="#0303d6" stroke="none" stroke-width="0" stroke-linejoin="miter"/>
<path d="M181.4 215.6L188.7 227.6L174.2 227.6Z" fill="#0303d6" stroke="none" stroke-width="0" stroke-linejoin="miter"/>
<path d="M183.8 219.9L191.0 231.9L176.5 231.9Z" fill="#0303d6" stroke="none" stroke-width="0" stroke-linejoin="miter"/>
<path d="M186.2 219.6L193.4 231.6L178.9 231.6Z" fill="#0303d6" stroke="none" stroke-width="0" stroke-linejoin="miter"/>
<path d="M188.5 223.3L195.8 235.3L181.3 235.3Z" fill="#0303d6" stroke="none" stroke-width="0" stroke-linejoin="miter"/>
<path d="M190.9 225.6L198.1 237.6L183.6 237.6Z" fill="#0303d6" stroke="none" stroke-width="0" stroke-linejoin="miter"/>
<path d="M193.2 224.3L200.5 236.3L186.0 236.3Z" fill="#0303d6" stroke="none" stroke-width="0" stroke-linejoin="miter"/>
<path d="M195.6 225.6L202.9 237.6L188.4 237.6Z" fill="#0303d6" stroke="none" stroke-width="0" stroke-linejoin="miter"/>
<path d="M198.0 229.3L205.2 241.3L190.7 241.3Z" fill="#0303d6" stroke="none" stroke-width="0" stroke-linejoin="miter"/>
<path d="M200.3 230.6L207.6 242.6L193.1 242.6Z" fill="#0303d6" stroke="none" stroke-width="0" stroke-linejoin="miter"/>
<path d="M202.7 228.0L209.9 240.0L195.4 240.0Z" fill="#0303d6" stroke="none" stroke-width="0" stroke-linejoin="miter"/>
<path d="M205.1 229.1L212.3 241.1L197.8 241.1Z" fill="#0303d6" stroke="none" stroke-width="0" stroke-linejoin="miter"/>
<path d="M207.4 230.8L214.7 242.8L200.2 242.8Z" fill="#0303d6" stroke="none" stroke-width="0" stroke-linejoin="miter"/>
<path d="M209.8 238.0L217.0 250.0L202.5 250.0Z" fill="#0303d6" stroke="none" stroke-width="0" stroke-linejoin="miter"/>
<path d="M212.1 238.8L219.4 250.8L204.9 250.8Z" fill="#0303d6" stroke="none" stroke-width="0" stroke-linejoin="miter"/>
<path d="M214.5 235.4L221.7 247.4L207.2 247.4Z" fill="#0303d6" stroke="none" stroke-width="0" stroke-linejoin="miter"/>
<path d="M216.9 242.0L224.1 254.0L209.6 254.0Z" fill="#0303d6" stroke="none" stroke-width="0" stroke-linejoin="miter"/>
<path d="M217.2 249.9L224.5 261.9L210.0 261.9Z" fill="#0303d6" stroke="none" stroke-width="0" stroke-linejoin="miter"/>
<path d="M219.2 244.7L226.5 256.7L212.0 256.7Z" fill="#0303d6" stroke="none" stroke-width="0" stroke-linejoin="miter"/>
<path d="M221.6 242.8L228.8 254.8L214.3 254.8Z" fill="#0303d6" stroke="none" stroke-width="0" stroke-linejoin="miter"/>
<path d="M223.9 247.3L231.2 259.3L216.7 259.3Z" fill="#0303d6" stroke="none" stroke-width="0" stroke-linejoin="miter"/>
<path d="M224.3 250.6L231.6 262.6L217.1 262.6Z" fill="#0303d6" stroke="none" stroke-width="0" stroke-linejoin="miter"/>
<path d="M226.3 247.1L233.6 259.1L219.1 259.1Z" fill="#0303d6" stroke="none" stroke-width="0" stroke-linejoin="miter"/>
<path d="M228.7 256.3L235.9 268.3L221.4 268.3Z" fill="#0303d6" stroke="none" stroke-width="0" stroke-linejoin="miter"/>
<path d="M231.0 256.7L238.3 268.7L223.8 268.7Z" fill="#0303d6" stroke="none" stroke-width="0" stroke-linejoin="miter"/>
<path d="M231.4 264.4L238.6 276.4L224.1 276.4Z" fill="#0303d6" stroke="none" stroke-width="0" stroke-linejoin="miter"/>
<path d="M233.4 258.6L240.6 270.6L226.1 270.6Z" fill="#0303d6" stroke="none" stroke-width="0" stroke-linejoin="miter"/>
<path d="M235.8 260.7L243.0 272.7L228.5 272.7Z" fill="#0303d6" stroke="none" stroke-width="0" stroke-linejoin="miter"/>
<path d="M238.1 266.8L245.4 278.8L230.9 278.8Z" fill="#0303d6" stroke="none" stroke-width="0" stroke-linejoin="miter"/>
<path d="M238.5 273.5L245.7 285.5L231.2 285.5Z" fill="#0303d6" stroke="none" stroke-width="0" stroke-linejoin="miter"/>
<path d="M240.5 269.5L247.7 281.5L233.2 281.5Z" fill="#0303d6" stroke="none" stroke-width="0" stroke-linejoin="miter"/>
<path d="M242.8 268.6L250.1 280.6L235.6 280.6Z" fill="#0303d6" stroke="none" stroke-width="0" stroke-linejoin="miter"/>
<path d="M245.2 272.3L252.4 284.3L237.9 284.3Z" fill="#0303d6" stroke="none" stroke-width="0" stroke-linejoin="miter"/>
<path d="M245.6 280.2L252.8 292.2L238.3 292.2Z" fill="#0303d6" stroke="none" stroke-width="0" stroke-linejoin="miter"/>
<path d="M247.6 275.2L254.8 287.2L240.3 287.2Z" fill="#0303d6" stroke="none" stroke-width="0" stroke-linejoin="miter"/>
<path d="M249.9 278.9L257.2 290.9L242.7 290.9Z" fill="#0303d6" stroke="none" stroke-width="0" stroke-linejoin="miter"/>
<path d="M252.3 283.9L259.5 295.9L245.0 295.9Z" fill="#0303d6" stroke="none" stroke-width="0" stroke-linejoin="miter"/>
<path d="M252.6 291.1L259.9 303.1L245.4 303.1Z" fill="#0303d6" stroke="none" stroke-width="0" stroke-linejoin="miter"/>
<path d="M254.6 285.3L261.9 297.3L247.4 297.3Z" fill="#0303d6" stroke="none" stroke-width="0" stroke-linejoin="miter"/>
<path d="M257.0 289.9L264.3 301.9L249.8 301.9Z" fill="#0303d6" stroke="none" stroke-width="0" stroke-linejoin="miter"/>
<path d="M259.4 293.6L266.6 305.6L252.1 305.6Z" fill="#0303d6" stroke="none" stroke-width="0" stroke-linejoin="miter"/>
<path d="M259.7 303.3L267.0 315.3L252.5 315.3Z" fill="#0303d6" stroke="none" stroke-width="0" stroke-linejoin="miter"/>
<path d="M261.7 297.5L269.0 309.5L254.5 309.5Z" fill="#0303d6" stroke="none" stroke-width="0" stroke-linejoin="miter"/>
<path d="M264.1 299.4L271.3 311.4L256.8 311.4Z" fill="#0303d6" stroke="none" stroke-width="0" stroke-linejoin="miter"/>
<path d="M266.5 306.3L273.7 318.3L259.2 318.3Z" fill="#0303d6" stroke="none" stroke-width="0" stroke-linejoin="miter"/>
<path d="M266.8 311.1L274.1 323.1L259.6 323.1Z" fill="#0303d6" stroke="none" stroke-width="0" stroke-linejoin="miter"/>
<path d="M268.8 306.3L276.1 318.3L261.6 318.3Z" fill="#0303d6" stroke="none" stroke-width="0" stroke-linejoin="miter"/>
<path d="M271.2 309.8L278.4 321.8L263.9 321.8Z" fill="#0303d6" stroke="none" stroke-width="0" stroke-linejoin="miter"/>
<path d="M273.5 309.7L280.8 321.7L266.3 321.7Z" fill="#0303d6" stroke="none" stroke-width="0" stroke-linejoin="miter"/>
<path d="M273.9 320.4L281.1 332.4L266.6 332.4Z" fill="#0303d6" stroke="none" stroke-width="0" stroke-linejoin="miter"/>
<path d="M275.9 316.5L283.1 328.5L268.6 328.5Z" fill="#0303d6" stroke="none" stroke-width="0" stroke-linejoin="miter"/>
<path d="M278.3 316.8L285.5 328.8L271.0 328.8Z" fill="#0303d6" stroke="none" stroke-width="0" stroke-linejoin="miter"/>
<path d="M280.6 326.5L287.9 338.5L273.4 338.5Z" fill="#0303d6" stroke="none" stroke-width="0" stroke-linejoin="miter"/>
<path d="M281.0 330.2L288.2 342.2L273.7 342.2Z" fill="#0303d6" stroke="none" stroke-width="0" stroke-linejoin="miter"/>
<path d="M283.0 325.6L290.2 337.6L275.7 337.6Z" fill="#0303d6" stroke="none" stroke-width="0" stroke-linejoin="miter"/>
<path d="M285.3 333.5L292.6 345.5L278.1 345.5Z" fill="#0303d6" stroke="none" stroke-width="0" stroke-linejoin="miter"/>
<path d="M287.7 336.0L295.0 348.0L280.5 348.0Z" fill="#0303d6" stroke="none" stroke-width="0" stroke-linejoin="miter"/>
<path d="M290.1 338.0L297.3 350.0L282.8 350.0Z" fill="#0303d6" stroke="none" stroke-width="0" stroke-linejoin="miter"/>
<path d="M292.4 342.2L299.7 354.2L285.2 354.2Z" fill="#0303d6" stroke="none" stroke-width="0" stroke-linejoin="miter"/>
<path d="M294.8 345.3L302.0 357.3L287.5 357.3Z" fill="#0303d6" stroke="none" stroke-width="0" stroke-linejoin="miter"/>
<path d="M297.2 349.8L304.4 361.8L289.9 361.8Z" fill="#0303d6" stroke="none" stroke-width="0" stroke-linejoin="miter"/>
<path d="M299.5 347.4L306.8 359.4L292.3 359.4Z" fill="#0303d6" stroke="none" stroke-width="0" stroke-linejoin="miter"/>
<path d="M301.9 352.1L309.1 364.1L294.6 364.1Z" fill="#0303d6" stroke="none" stroke-width="0" stroke-linejoin="miter"/>
<path d="M304.2 354.2L311.5 366.2L297.0 366.2Z" fill="#0303d6" stroke="none" stroke-width="0" stroke-linejoin="miter"/>
<path d="M306.6 355.0L313.8 367.0L299.3 367.0Z" fill="#0303d6" stroke="none" stroke-width="0" stroke-linejoin="miter"/>
<path d="M309.0 350.8L316.2 362.8L301.7 362.8Z" fill="#0303d6" stroke="none" stroke-width="0" stroke-linejoin="miter"/>
<path d="M311.3 347.7L318.6 359.7L304.1 359.7Z" fill="#0303d6" stroke="none" stroke-width="0" stroke-linejoin="miter"/>
<path d="M313.7 355.3L320.9 367.3L306.4 367.3Z" fill="#0303d6" stroke="none" stroke-width="0" stroke-linejoin="miter"/>
<path d="M316.0 360.7L323.3 372.7L308.8 372.7Z" fill="#0303d6" stroke="none" stroke-width="0" stroke-linejoin="miter"/>
<path d="M318.4 363.4L325.7 375.4L311.2 375.4Z" fill="#0303d6" stroke="none" stroke-width="0" stroke-linejoin="miter"/>
<path d="M320.8 364.0L328.0 376.0L313.5 376.0Z" fill="#0303d6" stroke="none" stroke-width="0" stroke-linejoin="miter"/>
<path d="M323.1 360.7L330.4 372.7L315.9 372.7Z" fill="#0303d6" stroke="none" stroke-width="0" stroke-linejoin="miter"/>
<path d="M325.5 364.3L332.7 376.3L318.2 376.3Z" fill="#0303d6" stroke="none" stroke-width="0" stroke-linejoin="miter"/>
<circle cx="122.4" cy="172.4" r="7.1" fill="#ff0000" stroke="none" stroke-width="0"/>
<circle cx="124.8" cy="162.1" r="7.1" fill="#ff0000" stroke="none" stroke-width="0"/>
<circle cx="127.1" cy="153.0" r="7.1" fill="#ff0000" stroke="none" stroke-width="0"/>
<circle cx="129.5" cy="146.8" r="7.1" fill="#ff0000" stroke="none" stroke-width="0"/>
<circle cx="131.8" cy="141.7" r="7.1" fill="#ff0000" stroke="none" stroke-width="0"/>
<circle cx="134.2" cy="137.5" r="7.1" fill="#ff0000" stroke="none" stroke-width="0"/>
<circle cx="136.6" cy="133.8" r="7.1" fill="#ff0000" stroke="none" stroke-width="0"/>
<circle cx="138.9" cy="130.6" r="7.1" fill="#ff0000" stroke="none" stroke-width="0"/>
<circle cx="141.3" cy="126.7" r="7.1" fill="#ff0000" stroke="none" stroke-width="0"/>
<circle cx="143.7" cy="125.7" r="7.1" fill="#ff0000" stroke="none" stroke-width="0"/>
<circle cx="146.0" cy="124.0" r="7.1" fill="#ff0000" stroke="none" stroke-width="0"/>
<circle cx="148.4" cy="123.4" r="7.1" fill="#ff0000" stroke="none" stroke-width="0"/>
<circle cx="150.7" cy="123.4" r="7.1" fill="#ff0000" stroke="none" stroke-width="0"/>
<circle cx="153.1" cy="122.2" r="7.1" fill="#ff0000" stroke="none" stroke-width="0"/>
<circle cx="155.5" cy="122.2" r="7.1" fill="#ff0000" stroke="none" stroke-width="0"/>
<circle cx="157.8" cy="121.7" r="7.1" fill="#ff0000" stroke="none" stroke-width="0"/>
<circle cx="160.2" cy="122.7" r="7.1" fill="#ff0000" stroke="none" stroke-width="0"/>
<circle cx="162.5" cy="122.1" r="7.1" fill="#ff0000" stroke="none" stroke-width="0"/>
<circle cx="164.9" cy="122.7" r="7.1" fill="#ff0000" stroke="none" stroke-width="0"/>
<circle cx="167.3" cy="123.0" r="7.1" fill="#ff0000" stroke="none" stroke-width="0"/>
<circle cx="169.6" cy="121.1" r="7.1" fill="#ff0000" stroke="none" stroke-width="0"/>
<circle cx="172.0" cy="122.1" r="7.1" fill="#ff0000" stroke="none" stroke-width="0"/>
<circle cx="174.4" cy="123.2" r="7.1" fill="#ff0000" stroke="none" stroke-width="0"/>
<circle cx="176.7" cy="123.2" r="7.1" fill="#ff0000" stroke="none" stroke-width="0"/>
<circle cx="179.1" cy="121.5" r="7.1" fill="#ff0000" stroke="none" stroke-width="0"/>
<circle cx="181.4" cy="121.8" r="7.1" fill="#ff0000" stroke="none" stroke-width="0"/>
<circle cx="183.8" cy="123.0" r="7.1" fill="#ff0000" stroke="none" stroke-width="0"/>
<circle cx="186.2" cy="122.3" r="7.1" fill="#ff0000" stroke="none" stroke-width="0"/>
<circle cx="188.5" cy="123.1" r="7.1" fill="#ff0000" stroke="none" stroke-width="0"/>
<circle cx="190.9" cy="122.9" r="7.1" fill="#ff0000" stroke="none" stroke-width="0"/>
<circle cx="193.2" cy="124.9" r="7.1" fill="#ff0000" stroke="none" stroke-width="0"/>
<circle cx="195.6" cy="125.5" r="7.1" fill="#ff0000" stroke="none" stroke-width="0"/>
<circle cx="198.0" cy="126.1" r="7.1" fill="#ff0000" stroke="none" stroke-width="0"/>
<circle cx="200.3" cy="124.3" r="7.1" fill="#ff0000" stroke="none" stroke-width="0"/>
<circle cx="202.7" cy="126.2" r="7.1" fill="#ff0000" stroke="none" stroke-width="0"/>
<circle cx="205.1" cy="126.3" r="7.1" fill="#ff0000" stroke="none" stroke-width="0"/>
<circle cx="207.4" cy="125.2" r="7.1" fill="#ff0000" stroke="none" stroke-width="0"/>
<circle cx="209.8" cy="127.5" r="7.1" fill="#ff0000" stroke="none" stroke-width="0"/>
<circle cx="212.1" cy="127.8" r="7.1" fill="#ff0000" stroke="none" stroke-width="0"/>
<circle cx="214.5" cy="125.8" r="7.1" fill="#ff0000" stroke="none" stroke-width="0"/>
<circle cx="216.9" cy="127.8" r="7.1" fill="#ff0000" stroke="none" stroke-width="0"/>
<circle cx="219.2" cy="126.3" r="7.1" fill="#ff0000" stroke="none" stroke-width="0"/>
<circle cx="221.6" cy="126.6" r="7.1" fill="#ff0000" stroke="none" stroke-width="0"/>
<circle cx="223.9" cy="128.0" r="7.1" fill="#ff0000" stroke="none" stroke-width="0"/>
<circle cx="226.3" cy="127.6" r="7.1" fill="#ff0000" stroke="none" stroke-width="0"/>
<circle cx="228.7" cy="125.8" r="7.1" fill="#ff0000" stroke="none" stroke-width="0"/>
<circle cx="231.0" cy="126.5" r="7.1" fill="#ff0000" stroke="none" stroke-width="0"/>
<circle cx="233.4" cy="126.8" r="7.1" fill="#ff0000" stroke="none" stroke-width="0"/>
<circle cx="235.8" cy="126.3" r="7.1" fill="#ff0000" stroke="none" stroke-width="0"/>
<circle cx="238.1" cy="126.0" r="7.1" fill="#ff0000" stroke="none" stroke-width="0"/>
<circle cx="240.5" cy="126.3" r="7.1" fill="#ff0000" stroke="none" stroke-width="0"/>
<circle cx="242.8" cy="127.5" r="7.1" fill="#ff0000" stroke="none" stroke-width="0"/>
<circle cx="245.2" cy="125.6" r="7.1" fill="#ff0000" stroke="none" stroke-width="0"/>
<circle cx="247.6" cy="127.1" r="7.1" fill="#ff0000" stroke="none" stroke-width="0"/>
<circle cx="249.9" cy="126.8" r="7.1" fill="#ff0000" stroke="none" stroke-width="0"/>
<circle cx="252.3" cy="125.6" r="7.1" fill="#ff0000" stroke="none" stroke-width="0"/>
<circle cx="254.6" cy="126.5" r="7.1" fill="#ff0000" stroke="none" stroke-width="0"/>
<circle cx="257.0" cy="127.2" r="7.1" fill="#ff0000" stroke="none" stroke-width="0"/>
<circle cx="259.4" cy="126.9" r="7.1" fill="#ff0000" stroke="none" stroke-width="0"/>
<circle cx="261.7" cy="125.5" r="7.1" fill="#ff0000" stroke="none" stroke-width="0"/>
<circle cx="264.1" cy="128.0" r="7.1" fill="#ff0000" stroke="none" stroke-width="0"/>
<circle cx="266.5" cy="127.4" r="7.1" fill="#ff0000" stroke="none" stroke-width="0"/>
<circle cx="268.8" cy="127.8" r="7.1" fill="#ff0000" stroke="none" stroke-width="0"/>
<circle cx="271.2" cy="125.3" r="7.1" fill="#ff0000" stroke="none" stroke-width="0"/>
<circle cx="273.5" cy="125.7" r="7.1" fill="#ff0000" stroke="none" stroke-width="0"/>
<circle cx="275.9" cy="125.0" r="7.1" fill="#ff0000" stroke="none" stroke-width="0"/>
<circle cx="278.3" cy="127.0" r="7.1" fill="#ff0000" stroke="none" stroke-width="0"/>
<circle cx="280.6" cy="125.5" r="7.1" fill="#ff0000" stroke="none" stroke-width="0"/>
<circle cx="283.0" cy="125.0" r="7.1" fill="#ff0000" stroke="none" stroke-width="0"/>
<circle cx="285.3" cy="125.8" r="7.1" fill="#ff0000" stroke="none" stroke-width="0"/>
<circle cx="287.7" cy="127.1" r="7.1" fill="#ff0000" stroke="none" stroke-width="0"/>
<circle cx="290.1" cy="126.7" r="7.1" fill="#ff0000" stroke="none" stroke-width="0"/>
<circle cx="292.4" cy="125.1" r="7.1" fill="#ff0000" stroke="none" stroke-width="0"/>
<circle cx="294.8" cy="124.7" r="7.1" fill="#ff0000" stroke="none" stroke-width="0"/>
<circle cx="297.2" cy="126.8" r="7.1" fill="#ff0000" stroke="none" stroke-width="0"/>
<circle cx="299.5" cy="125.7" r="7.1" fill="#ff0000" stroke="none" stroke-width="0"/>
<circle cx="301.9" cy="126.0" r="7.1" fill="#ff0000" stroke="none" stroke-width="0"/>
<circle cx="304.2" cy="124.1" r="7.1" fill="#ff0000" stroke="none" stroke-width="0"/>
<circle cx="306.6" cy="123.9" r="7.1" fill="#ff0000" stroke="none" stroke-width="0"/>
<circle cx="309.0" cy="125.6" r="7.1" fill="#ff0000" stroke="none" stroke-width="0"/>
<circle cx="311.3" cy="124.8" r="7.1" fill="#ff0000" stroke="none" stroke-width="0"/>
<circle cx="313.7" cy="123.7" r="7.1" fill="#ff0000" stroke="none" stroke-width="0"/>
<circle cx="316.0" cy="126.0" r="7.1" fill="#ff0000" stroke="none" stroke-width="0"/>
<circle cx="318.4" cy="125.0" r="7.1" fill="#ff0000" stroke="none" stroke-width="0"/>
<circle cx="320.8" cy="125.4" r="7.1" fill="#ff0000" stroke="none" stroke-width="0"/>
<circle cx="323.1" cy="123.2" r="7.1" fill="#ff0000" stroke="none" stroke-width="0"/>
<circle cx="325.5" cy="125.3" r="7.1" fill="#ff0000" stroke="none" stroke-width="0"/>
<circle cx="327.9" cy="123.0" r="7.1" fill="#ff0000" stroke="none" stroke-width="0"/>
<circle cx="330.2" cy="125.1" r="7.1" fill="#ff0000" stroke="none" stroke-width="0"/>
<circle cx="332.6" cy="123.8" r="7.1" fill="#ff0000" stroke="none" stroke-width="0"/>
<circle cx="334.9" cy="123.4" r="7.1" fill="#ff0000" stroke="none" stroke-width="0"/>
<circle cx="337.3" cy="123.9" r="7.1" fill="#ff0000" stroke="none" stroke-width="0"/>
<circle cx="339.7" cy="124.8" r="7.1" fill="#ff0000" stroke="none" stroke-width="0"/>
<circle cx="342.0" cy="122.9" r="7.1" fill="#ff0000" stroke="none" stroke-width="0"/>
<circle cx="344.4" cy="122.4" r="7.1" fill="#ff0000" stroke="none" stroke-width="0"/>
<circle cx="346.7" cy="123.4" r="7.1" fill="#ff0000" stroke="none" stroke-width="0"/>
<circle cx="349.1" cy="122.5" r="7.1" fill="#ff0000" stroke="none" stroke-width="0"/>
<circle cx="351.5" cy="122.0" r="7.1" fill="#ff0000" stroke="none" stroke-width="0"/>
<circle cx="353.8" cy="122.1" r="7.1" fill="#ff0000" stroke="none" stroke-width="0"/>
<circle cx="356.2" cy="121.7" r="7.1" fill="#ff0000" stroke="none" stroke-width="0"/>
<circle cx="358.5" cy="122.0" r="7.1" fill="#ff0000" stroke="none" stroke-width="0"/>
<circle cx="360.9" cy="122.2" r="7.1" fill="#ff0000" stroke="none" stroke-width="0"/>
<circle cx="363.3" cy="122.1" r="7.1" fill="#ff0000" stroke="none" stroke-width="0"/>
<circle cx="365.6" cy="123.2" r="7.1" fill="#ff0000" stroke="none" stroke-width="0"/>
<circle cx="368.0" cy="121.8" r="7.1" fill="#ff0000" stroke="none" stroke-width="0"/>
<circle cx="370.4" cy="122.3" r="7.1" fill="#ff0000" stroke="none" stroke-width="0"/>
<circle cx="372.7" cy="121.3" r="7.1" fill="#ff0000" stroke="none" stroke-width="0"/>
<circle cx="375.1" cy="121.7" r="7.1" fill="#ff0000" stroke="none" stroke-width="0"/>
<circle cx="377.4" cy="120.7" r="7.1" fill="#ff0000" stroke="none" stroke-width="0"/>
<circle cx="379.8" cy="121.2" r="7.1" fill="#ff0000" stroke="none" stroke-width="0"/>
<circle cx="382.2" cy="120.5" r="7.1" fill="#ff0000" stroke="none" stroke-width="0"/>
<circle cx="384.5" cy="122.4" r="7.1" fill="#ff0000" stroke="none" stroke-width="0"/>
<circle cx="386.9" cy="121.8" r="7.1" fill="#ff0000" stroke="none" stroke-width="0"/>
<circle cx="389.2" cy="120.7" r="7.1" fill="#ff0000" stroke="none" stroke-width="0"/>
<circle cx="391.6" cy="121.4" r="7.1" fill="#ff0000" stroke="none" stroke-width="0"/>
<circle cx="394.0" cy="122.6" r="7.1" fill="#ff0000" stroke="none" stroke-width="0"/>
<circle cx="396.3" cy="120.3" r="7.1" fill="#ff0000" stroke="none" stroke-width="0"/>
<circle cx="398.7" cy="122.2" r="7.1" fill="#ff0000" stroke="none" stroke-width="0"/>
<circle cx="401.1" cy="121.1" r="7.1" fill="#ff0000" stroke="none" stroke-width="0"/>
<circle cx="403.4" cy="121.2" r="7.1" fill="#ff0000" stroke="none" stroke-width="0"/>
<circle cx="405.8" cy="122.1" r="7.1" fill="#ff0000" stroke="none" stroke-width="0"/>
<circle cx="408.1" cy="120.8" r="7.1" fill="#ff0000" stroke="none" stroke-width="0"/>
<circle cx="410.5" cy="121.1" r="7.1" fill="#ff0000" stroke="none" stroke-width="0"/>
<circle cx="412.9" cy="121.6" r="7.1" fill="#ff0000" stroke="none" stroke-width="0"/>
<circle cx="415.2" cy="122.3" r="7.1" fill="#ff0000" stroke="none" stroke-width="0"/>
<circle cx="417.6" cy="120.5" r="7.1" fill="#ff0000" stroke="none" stroke-width="0"/>
<circle cx="419.9" cy="121.8" r="7.1" fill="#ff0000" stroke="none" stroke-width="0"/>
<circle cx="422.3" cy="121.4" r="7.1" fill="#ff0000" stroke="none" stroke-width="0"/>
<circle cx="424.7" cy="121.2" r="7.1" fill="#ff0000" stroke="none" stroke-width="0"/>
<circle cx="427.0" cy="120.5" r="7.1" fill="#ff0000" stroke="none" stroke-width="0"/>
<circle cx="429.4" cy="120.3" r="7.1" fill="#ff0000" stroke="none" stroke-width="0"/>
<circle cx="431.8" cy="119.4" r="7.1" fill="#ff0000" stroke="none" stroke-width="0"/>
<circle cx="434.1" cy="119.6" r="7.1" fill="#ff0000" stroke="none" stroke-width="0"/>
<circle cx="436.5" cy="119.4" r="7.1" fill="#ff0000" stroke="none" stroke-width="0"/>
<circle cx="438.8" cy="121.2" r="7.1" fill="#ff0000" stroke="none" stroke-width="0"/>
<circle cx="441.2" cy="119.9" r="7.1" fill="#ff0000" stroke="none" stroke-width="0"/>
<circle cx="443.6" cy="119.7" r="7.1" fill="#ff0000" stroke="none" stroke-width="0"/>
<circle cx="445.9" cy="119.6" r="7.1" fill="#ff0000" stroke="none" stroke-width="0"/>
<circle cx="448.3" cy="121.8" r="7.1" fill="#ff0000" stroke="none" stroke-width="0"/>
<circle cx="450.6" cy="121.9" r="7.1" fill="#ff0000" stroke="none" stroke-width="0"/>
<circle cx="453.0" cy="121.5" r="7.1" fill="#ff0000" stroke="none" stroke-width="0"/>
<circle cx="455.4" cy="120.5" r="7.1" fill="#ff0000" stroke="none" stroke-width="0"/>
<circle cx="457.7" cy="120.4" r="7.1" fill="#ff0000" stroke="none" stroke-width="0"/>
<circle cx="460.1" cy="120.7" r="7.1" fill="#ff0000" stroke="none" stroke-width="0"/>
<circle cx="462.5" cy="121.2" r="7.1" fill="#ff0000" stroke="none" stroke-width="0"/>
<circle cx="464.8" cy="120.5" r="7.1" fill="#ff0000" stroke="none" stroke-width="0"/>
<circle cx="467.2" cy="121.4" r="7.1" fill="#ff0000" stroke="none" stroke-width="0"/>
<circle cx="469.5" cy="120.9" r="7.1" fill="#ff0000" stroke="none" stroke-width="0"/>
<circle cx="471.9" cy="123.0" r="7.1" fill="#ff0000" stroke="none" stroke-width="0"/>
<circle cx="474.3" cy="123.1" r="7.1" fill="#ff0000" stroke="none" stroke-width="0"/>
<circle cx="476.6" cy="122.0" r="7.1" fill="#ff0000" stroke="none" stroke-width="0"/>
<circle cx="479.0" cy="121.2" r="7.1" fill="#ff0000" stroke="none" stroke-width="0"/>
<circle cx="481.3" cy="123.4" r="7.1" fill="#ff0000" stroke="none" stroke-width="0"/>
<circle cx="483.7" cy="121.8" r="7.1" fill="#ff0000" stroke="none" stroke-width="0"/>
<circle cx="486.1" cy="122.2" r="7.1" fill="#ff0000" stroke="none" stroke-width="0"/>
<circle cx="488.4" cy="121.4" r="7.1" fill="#ff0000" stroke="none" stroke-width="0"/>
<circle cx="490.8" cy="122.7" r="7.1" fill="#ff0000" stroke="none" stroke-width="0"/>
<circle cx="493.2" cy="123.2" r="7.1" fill="#ff0000" stroke="none" stroke-width="0"/>
<circle cx="495.5" cy="123.5" r="7.1" fill="#ff0000" stroke="none" stroke-width="0"/>
<circle cx="497.9" cy="122.8" r="7.1" fill="#ff0000" stroke="none" stroke-width="0"/>
<circle cx="500.2" cy="123.9" r="7.1" fill="#ff0000" stroke="none" stroke-width="0"/>
<circle cx="502.6" cy="122.7" r="7.1" fill="#ff0000" stroke="none" stroke-width="0"/>
<circle cx="505.0" cy="123.7" r="7.1" fill="#ff0000" stroke="none" stroke-width="0"/>
<circle cx="507.3" cy="123.4" r="7.1" fill="#ff0000" stroke="none" stroke-width="0"/>
<circle cx="509.7" cy="124.5" r="7.1" fill="#ff0000" stroke="none" stroke-width="0"/>
<circle cx="512.0" cy="123.7" r="7.1" fill="#ff0000" stroke="none" stroke-width="0"/>
<circle cx="514.4" cy="124.1" r="7.1" fill="#ff0000" stroke="none" stroke-width="0"/>
<circle cx="516.8" cy="125.2" r="7.1" fill="#ff0000" stroke="none" stroke-width="0"/>
<circle cx="519.1" cy="125.4" r="7.1" fill="#ff0000" stroke="none" stroke-width="0"/>
<circle cx="521.5" cy="126.8" r="7.1" fill="#ff0000" stroke="none" stroke-width="0"/>
<circle cx="523.9" cy="127.0" r="7.1" fill="#ff0000" stroke="none" stroke-width="0"/>
<circle cx="526.2" cy="128.0" r="7.1" fill="#ff0000" stroke="none" stroke-width="0"/>
<circle cx="528.6" cy="128.1" r="7.1" fill="#ff0000" stroke="none" stroke-width="0"/>
<circle cx="530.9" cy="128.6" r="7.1" fill="#ff0000" stroke="none" stroke-width="0"/>
<circle cx="533.3" cy="129.5" r="7.1" fill="#ff0000" stroke="none" stroke-width="0"/>
<circle cx="535.7" cy="128.5" r="7.1" fill="#ff0000" stroke="none" stroke-width="0"/>
<circle cx="538.0" cy="128.7" r="7.1" fill="#ff0000" stroke="none" stroke-width="0"/>
<circle cx="540.4" cy="130.9" r="7.1" fill="#ff0000" stroke="none" stroke-width="0"/>
<circle cx="542.7" cy="129.0" r="7.1" fill="#ff0000" stroke="none" stroke-width="0"/>
<circle cx="545.1" cy="131.0" r="7.1" fill="#ff0000" stroke="none" stroke-width="0"/>
<circle cx="547.5" cy="131.2" r="7.1" fill="#ff0000" stroke="none" stroke-width="0"/>
<circle cx="549.8" cy="129.9" r="7.1" fill="#ff0000" stroke="none" stroke-width="0"/>
<circle cx="552.2" cy="132.5" r="7.1" fill="#ff0000" stroke="none" stroke-width="0"/>
<circle cx="554.6" cy="133.1" r="7.1" fill="#ff0000" stroke="none" stroke-width="0"/>
<circle cx="556.9" cy="132.8" r="7.1" fill="#ff0000" stroke="none" stroke-width="0"/>
<circle cx="559.3" cy="133.5" r="7.1" fill="#ff0000" stroke="none" stroke-width="0"/>
<circle cx="561.6" cy="134.1" r="7.1" fill="#ff0000" stroke="none" stroke-width="0"/>
<circle cx="564.0" cy="132.6" r="7.1" fill="#ff0000" stroke="none" stroke-width="0"/>
<circle cx="566.4" cy="134.1" r="7.1" fill="#ff0000" stroke="none" stroke-width="0"/>
<circle cx="568.7" cy="134.5" r="7.1" fill="#ff0000" stroke="none" stroke-width="0"/>
<circle cx="571.1" cy="135.8" r="7.1" fill="#ff0000" stroke="none" stroke-width="0"/>
<circle cx="573.4" cy="136.2" r="7.1" fill="#ff0000" stroke="none" stroke-width="0"/>
<circle cx="575.8" cy="136.6" r="7.1" fill="#ff0000" stroke="none" stroke-width="0"/>
<circle cx="578.2" cy="136.4" r="7.1" fill="#ff0000" stroke="none" stroke-width="0"/>
<circle cx="580.5" cy="137.7" r="7.1" fill="#ff0000" stroke="none" stroke-width="0"/>
<circle cx="582.9" cy="137.5" r="7.1" fill="#ff0000" stroke="none" stroke-width="0"/>
<circle cx="585.3" cy="137.5" r="7.1" fill="#ff0000" stroke="none" stroke-width="0"/>
<circle cx="449.0" cy="116.5" r="7.1" fill="#ff0000" stroke="none" stroke-width="0"/>
<circle cx="512.4" cy="119.5" r="7.1" fill="#ff0000" stroke="none" stroke-width="0"/>
<circle cx="566.0" cy="132.0" r="7.1" fill="#ff0000" stroke="none" stroke-width="0"/>
<circle cx="583.3" cy="136.5" r="7.1" fill="#ff0000" stroke="none" stroke-width="0"/>
<rect x="120" y="7.7" width="472.3" height="423" fill="none" stroke="#111" stroke-width="2.4"/>
<line x1="238.1" y1="431" x2="238.1" y2="422.5" stroke="#111" stroke-width="2.2"/>
<line x1="238.1" y1="7.7" x2="238.1" y2="17" stroke="#111" stroke-width="2.2"/>
<line x1="356.1" y1="431" x2="356.1" y2="422.5" stroke="#111" stroke-width="2.2"/>
<line x1="356.1" y1="7.7" x2="356.1" y2="17" stroke="#111" stroke-width="2.2"/>
<line x1="474.2" y1="431" x2="474.2" y2="422.5" stroke="#111" stroke-width="2.2"/>
<line x1="474.2" y1="7.7" x2="474.2" y2="17" stroke="#111" stroke-width="2.2"/>
<line x1="120" y1="353.8" x2="129" y2="353.8" stroke="#111" stroke-width="2.2"/>
<line x1="120" y1="276.6" x2="129" y2="276.6" stroke="#111" stroke-width="2.2"/>
<line x1="120" y1="199.4" x2="129" y2="199.4" stroke="#111" stroke-width="2.2"/>
<line x1="120" y1="122.2" x2="129" y2="122.2" stroke="#111" stroke-width="2.2"/>
<line x1="120" y1="45.0" x2="129" y2="45.0" stroke="#111" stroke-width="2.2"/>
<line x1="592.3" y1="366.0" x2="583.3" y2="366.0" stroke="#111" stroke-width="2.2"/>
<line x1="592.3" y1="300.8" x2="583.3" y2="300.8" stroke="#111" stroke-width="2.2"/>
<line x1="592.3" y1="235.7" x2="583.3" y2="235.7" stroke="#111" stroke-width="2.2"/>
<line x1="592.3" y1="105.4" x2="583.3" y2="105.4" stroke="#111" stroke-width="2.2"/>
<line x1="592.3" y1="40.3" x2="583.3" y2="40.3" stroke="#111" stroke-width="2.2"/>
<text transform="translate(110.0,439.0) scale(1.0,1.1)" text-anchor="end" font-size="25.5" font-family="Liberation Sans, Arial, sans-serif" fill="#151515" stroke="#151515" stroke-width="0.4" >0</text>
<text transform="translate(110.0,363.0) scale(1.0,1.1)" text-anchor="end" font-size="25.5" font-family="Liberation Sans, Arial, sans-serif" fill="#151515" stroke="#151515" stroke-width="0.4" >200</text>
<text transform="translate(110.0,286.0) scale(1.0,1.1)" text-anchor="end" font-size="25.5" font-family="Liberation Sans, Arial, sans-serif" fill="#151515" stroke="#151515" stroke-width="0.4" >400</text>
<text transform="translate(110.0,209.0) scale(1.0,1.1)" text-anchor="end" font-size="25.5" font-family="Liberation Sans, Arial, sans-serif" fill="#151515" stroke="#151515" stroke-width="0.4" >600</text>
<text transform="translate(110.0,131.5) scale(1.0,1.1)" text-anchor="end" font-size="25.5" font-family="Liberation Sans, Arial, sans-serif" fill="#151515" stroke="#151515" stroke-width="0.4" >800</text>
<text transform="translate(110.0,55.8) scale(1.0,1.1)" text-anchor="end" font-size="25.5" font-family="Liberation Sans, Arial, sans-serif" fill="#151515" stroke="#151515" stroke-width="0.4" >1000</text>
<text transform="translate(120.5,466.8) scale(1.0,1.1)" text-anchor="middle" font-size="25.5" font-family="Liberation Sans, Arial, sans-serif" fill="#151515" stroke="#151515" stroke-width="0.4" >0</text>
<text transform="translate(238.6,466.8) scale(1.0,1.1)" text-anchor="middle" font-size="25.5" font-family="Liberation Sans, Arial, sans-serif" fill="#151515" stroke="#151515" stroke-width="0.4" >50</text>
<text transform="translate(356.6,466.8) scale(1.0,1.1)" text-anchor="middle" font-size="25.5" font-family="Liberation Sans, Arial, sans-serif" fill="#151515" stroke="#151515" stroke-width="0.4" >100</text>
<text transform="translate(474.7,466.8) scale(1.0,1.1)" text-anchor="middle" font-size="25.5" font-family="Liberation Sans, Arial, sans-serif" fill="#151515" stroke="#151515" stroke-width="0.4" >150</text>
<text transform="translate(592.8,466.8) scale(1.0,1.1)" text-anchor="middle" font-size="25.5" font-family="Liberation Sans, Arial, sans-serif" fill="#151515" stroke="#151515" stroke-width="0.4" >200</text>
<text transform="translate(603.0,438.7) scale(1.0,1.1)" text-anchor="start" font-size="25.5" font-family="Liberation Sans, Arial, sans-serif" fill="#151515" stroke="#151515" stroke-width="0.4" >40</text>
<text transform="translate(603.0,373.6) scale(1.0,1.1)" text-anchor="start" font-size="25.5" font-family="Liberation Sans, Arial, sans-serif" fill="#151515" stroke="#151515" stroke-width="0.4" >50</text>
<text transform="translate(603.0,308.4) scale(1.0,1.1)" text-anchor="start" font-size="25.5" font-family="Liberation Sans, Arial, sans-serif" fill="#151515" stroke="#151515" stroke-width="0.4" >60</text>
<text transform="translate(603.0,243.3) scale(1.0,1.1)" text-anchor="start" font-size="25.5" font-family="Liberation Sans, Arial, sans-serif" fill="#151515" stroke="#151515" stroke-width="0.4" >70</text>
<text transform="translate(603.0,178.1) scale(1.0,1.1)" text-anchor="start" font-size="25.5" font-family="Liberation Sans, Arial, sans-serif" fill="#151515" stroke="#151515" stroke-width="0.4" >80</text>
<text transform="translate(603.0,113.0) scale(1.0,1.1)" text-anchor="start" font-size="25.5" font-family="Liberation Sans, Arial, sans-serif" fill="#151515" stroke="#151515" stroke-width="0.4" >90</text>
<text transform="translate(603.0,47.9) scale(1.0,1.1)" text-anchor="start" font-size="25.5" font-family="Liberation Sans, Arial, sans-serif" fill="#151515" stroke="#151515" stroke-width="0.4" >100</text>
<text transform="translate(369.5,493.0) scale(1.0,1.07)" text-anchor="middle" font-size="31.6" font-family="Liberation Sans, Arial, sans-serif" fill="#111" stroke="#111" stroke-width="0.4" >Cycle number</text>
<text transform="translate(42.3,428) rotate(-90) scale(1,1.03)" font-size="31.6" font-family="Liberation Sans, Arial, sans-serif" fill="#111" stroke="#111" stroke-width="0.3">Discharge capacity / mA h g<tspan dy="-16" font-size="20">–1</tspan></text>
<text transform="translate(671.3,392.5) rotate(-90) scale(1,1.06)" font-size="31.5" font-family="Liberation Sans, Arial, sans-serif" fill="#111" stroke="#111" stroke-width="0.3">Coulombic efficiency (%)</text>
<path d="M291.6 30 C290 20 285 15.5 281 17 C273 20 269.8 38 269.8 54 C269.8 72 275 88 282 88 C288 88 292 80 292.5 70 L353 69.5" fill="none" stroke="#3a3a3a" stroke-width="1.7"/>
<path d="M360 69.5 L351.5 65.8 L351.5 73.2 Z" fill="#111"/>
<text transform="translate(193.6,414.8) scale(1.0,1.05)" text-anchor="start" font-size="22.5" font-family="Liberation Sans, Arial, sans-serif" fill="#1a1a1a" stroke="#1a1a1a" stroke-width="0.4" >PC</text>
<text transform="translate(274,166.8)" font-size="25.2" font-family="Liberation Serif, Times New Roman, serif" font-weight="bold"><tspan fill="#2a52a0">EMIM</tspan><tspan fill="#000">FSI</tspan></text>
<path d="M275 173.3 L210.7 233 M214.2 224.5 L210.7 233 L220 232" fill="none" stroke="#4242b0" stroke-width="1.6"/>
<path d="M287 214 L306.9 185.3 L341.5 185.3 L353 213 M311 190.8 L338.8 190.8 M351 228 L322.7 249 L296 228 M346 225.5 L323 242.5 M286 227 L254.2 247.7 M364 227 L395.6 242.7 L426.1 224" stroke="#6e76b0" stroke-width="1.5" fill="none"/>
<text transform="translate(291.6,227.8)" text-anchor="middle" font-size="16.5" font-family="Liberation Sans, Arial, sans-serif" fill="#4a54a0" stroke="#4a54a0" stroke-width="0.3" >N</text>
<text transform="translate(356.8,227.8)" text-anchor="middle" font-size="16.5" font-family="Liberation Sans, Arial, sans-serif" fill="#4a54a0" stroke="#4a54a0" stroke-width="0.3" >N</text>
<text transform="translate(368.7,216.5)" text-anchor="middle" font-size="15" font-family="Liberation Sans, Arial, sans-serif" fill="#4a54a0" stroke="#4a54a0" stroke-width="0.7" >+</text>
<text transform="translate(458.5,166.6)" font-size="25.4" font-family="Liberation Serif, Times New Roman, serif" font-weight="bold"><tspan fill="#f00000">Pyr</tspan><tspan fill="#f00000" font-size="17.5" dx="0.3" dy="7">14</tspan><tspan fill="#000" font-size="25.9" dx="2.5" dy="-7">FSI</tspan></text>
<path d="M430.6 142.7 L414.9 129.3 M416.6 137.5 L414.9 129.3 L423.6 130.4" fill="none" stroke="#b85a5a" stroke-width="1.5"/>
<path d="M481.5 239.5 L448.2 223.5 L462.1 180.6 L506.4 180.6 L521.7 222.7 L496 238 M482 249 L455.3 263 M495 249 L512.6 260 L540.1 245.6 L565.7 261" stroke="#b85c66" stroke-width="1.6" fill="none"/>
<text transform="translate(488.0,251.5)" text-anchor="middle" font-size="17" font-family="Liberation Sans, Arial, sans-serif" fill="#a84452" stroke="#a84452" stroke-width="0.3" >N</text>
<text transform="translate(499.3,240.5)" text-anchor="middle" font-size="15" font-family="Liberation Sans, Arial, sans-serif" fill="#a84452" stroke="#a84452" stroke-width="0.7" >+</text>
<path d="M463 174 L467 173" stroke="#555" stroke-width="1.5"/>
</g>
</svg>
</body></html>
